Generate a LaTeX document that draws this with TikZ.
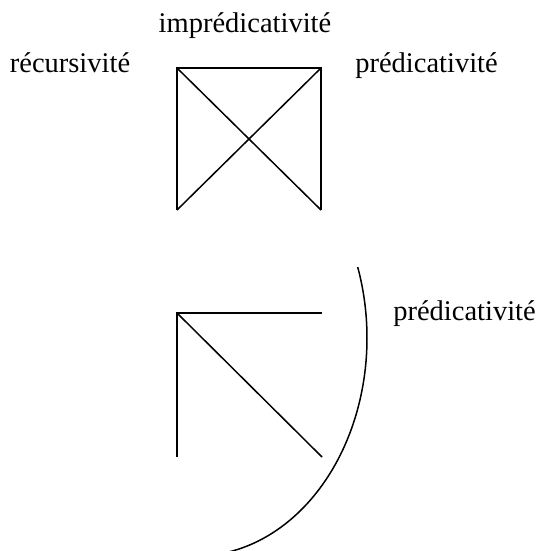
\documentclass[tikz,border=0pt]{standalone}
\usepackage{fontspec}
\setmainfont{Liberation Serif}
\begin{document}
\begin{tikzpicture}[x=1pt,y=-1pt,
  edge/.style={line width=1.5pt},
  lbl/.style={inner sep=0pt, anchor=base, font=\fontsize{28.5}{34}\selectfont}]
\useasboundingbox (0,0) rectangle (541,551);
% labels
\node[lbl] (impred) at (245,33) {imprédicativité};
\node[lbl] (recurs) at (70,73) {récursivité};
\node[lbl] (predA) at (426.5,73) {prédicativité};
\node[lbl] (predB) at (464.5,320) {prédicativité};
% top figure
\coordinate (tl) at (177,68);
\coordinate (tr) at (321,68);
\coordinate (bl) at (177,210);
\coordinate (br) at (321,210);
\draw[edge] (bl) -- (tl) -- (tr) -- (br);
\draw[edge] (tl) -- (br);
\draw[edge] (tr) -- (bl);
% bottom figure
\coordinate (c) at (177,313);
\coordinate (h) at (322,313);
\coordinate (v) at (177,457);
\coordinate (d) at (322,457);
\draw[edge] (h) -- (c) -- (v);
\draw[edge] (c) -- (d);
% arc
\draw[edge] plot[domain=-19:101, samples=120, smooth] ({196+171*cos(\x)}, {338+218*sin(\x)});
\end{tikzpicture}
\end{document}
